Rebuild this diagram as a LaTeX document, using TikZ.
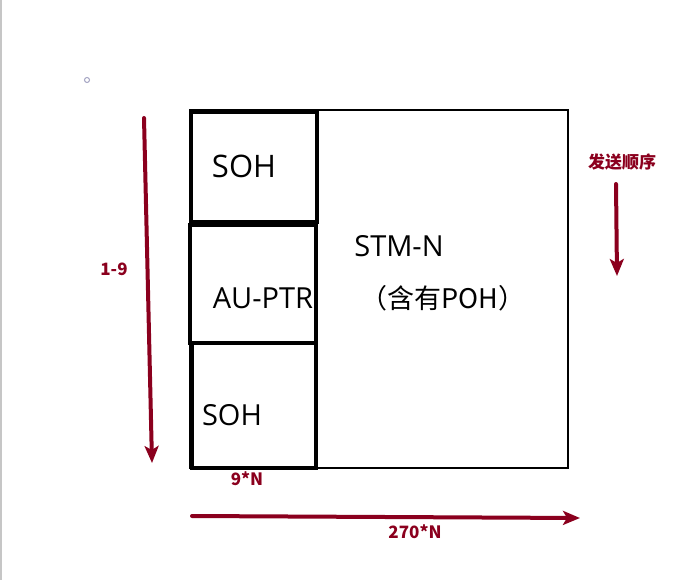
\documentclass[tikz,border=0pt]{standalone}
\usepackage{fontspec}
\setmainfont{Open Sans}
\newfontfamily\cjk{Noto Sans CJK SC}
\usetikzlibrary{arrows.meta}
\definecolor{dred}{RGB}{139,0,30}
\tikzset{
  frame/.style={draw=black, line width=2pt, minimum width=378pt, minimum height=358pt, inner sep=0pt},
  part/.style={draw=black, line width=3.5pt, inner sep=0pt},
  lbl/.style={text=black, font=\fontsize{29}{32}\selectfont, inner sep=0pt},
  rlbl/.style={text=dred, font=\cjk\bfseries\fontsize{17}{19}\selectfont, inner sep=0pt},
  redarrow/.style={draw=dred, line width=4pt, line cap=round, -{Stealth[length=17pt,width=14pt,inset=4pt]}},
}
\begin{document}
\begin{tikzpicture}[x=1pt,y=-1pt]
\useasboundingbox (0,0) rectangle (698,580);
\fill[white] (0,0) rectangle (698,580);
\draw[gray!45, line width=2pt] (1,0) -- (1,580);
\node[circle, draw=blue!20!gray!60, line width=1pt, inner sep=0pt, minimum size=5pt] (dot) at (87,80) {};
% outer frame
\node[frame] (stm) at (379,289) {};
% left parts
\node[part, minimum width=126pt, minimum height=110pt] (soh1) at (254,167) {};
\node[part, minimum width=126pt, minimum height=118pt] (auptr) at (253,284) {};
\node[part, minimum width=124pt, minimum height=125pt] (soh2) at (254,405.5) {};
% texts
\node[lbl, font=\fontsize{31}{34}\selectfont] (t1) at (244,166) {SOH};
\node[lbl] (t2) at (263,298) {AU-PTR};
\node[lbl] (t3) at (232,415) {SOH};
\node[lbl] (t4) at (399,246) {STM-N};
\node[lbl, font=\cjk\fontsize{27}{30}\selectfont] (t5) at (443,298) {（含有POH）};
% red labels
\node[rlbl] (order) at (622,162) {发送顺序};
\node[rlbl] (rows) at (114,269) {1-9};
\node[rlbl] (ninen) at (247,479) {9*N};
\node[rlbl] (cols) at (415,532) {270*N};
% arrows
\coordinate (a1s) at (144,118);
\coordinate (a1e) at (152,463);
\coordinate (a2s) at (616,184);
\coordinate (a2e) at (617,276);
\coordinate (a3s) at (192,516);
\coordinate (a3e) at (580,518);
\draw[redarrow] (a1s) -- (a1e);
\draw[redarrow] (a2s) -- (a2e);
\draw[redarrow] (a3s) -- (a3e);
\end{tikzpicture}
\end{document}
